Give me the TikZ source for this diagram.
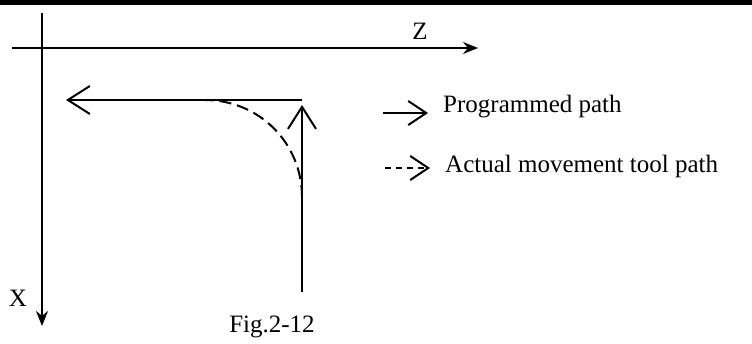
\documentclass[tikz,border=0pt]{standalone}
\usepackage{fontspec}
\setmainfont{Liberation Serif}
\usetikzlibrary{arrows.meta}

\begin{document}
\begin{tikzpicture}[
  x=1pt,y=-1pt,
  axis/.style={line width=2pt,-{Stealth[length=15pt,width=12pt]}},
  prgline/.style={line width=2pt,-{Straight Barb[length=22pt,width=28pt]}},
  keyline/.style={line width=2pt,-{Straight Barb[length=18pt,width=24pt]}},
  actline/.style={line width=2pt,dash pattern=on 12pt off 6pt},
  lbl/.style={font=\fontsize{25}{30}\selectfont,inner sep=0pt}
]
\useasboundingbox (0,0) rectangle (752,343);
\fill (0,0) rectangle (752,5);
% axes
\coordinate (zs) at (12,48);
\coordinate (zt) at (478,48);
\coordinate (xs) at (42,13);
\coordinate (xt) at (42,326);
\draw[axis] (zs) -- (zt);
\draw[axis] (xs) -- (xt);
\node[lbl] (zlab) at (420,31) {Z};
\node[lbl] (xlab) at (18,298) {X};
% programmed path and actual path
\coordinate (p0) at (302,292);
\coordinate (p1) at (302,105);
\coordinate (pc) at (302,100);
\coordinate (p2) at (66,100);
\coordinate (a0) at (302,197);
\coordinate (a1) at (205,100);
\draw[prgline] (p0) -- (p1);
\draw[prgline] (pc) -- (p2);
\draw[actline] (a0) .. controls (302,143) and (259,100) .. (a1);
% key
\node[lbl,anchor=base west,inner xsep=15pt] (prog) at (428,112) {Programmed path};
\node[lbl,anchor=base west,inner xsep=15pt] (act) at (430,172) {Actual movement tool path};
\coordinate (kp) at (383,113);
\coordinate (ka) at (385,168);
\draw[keyline] (kp) -- (kp -| prog.west);
\draw[keyline,dash pattern=on 6pt off 5pt] (ka) -- (ka -| act.west);
\node[lbl] (cap) at (272,327) {Fig.2-12};
\end{tikzpicture}
\end{document}
